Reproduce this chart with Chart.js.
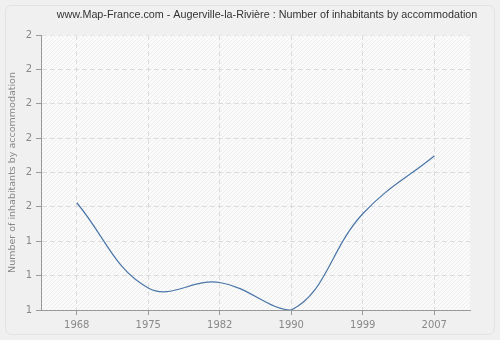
<!DOCTYPE html>
<html>
<head>
<meta charset="utf-8">
<script src="https://cdn.jsdelivr.net/npm/chart.js@4/dist/chart.umd.min.js"></script>
<style>
  html, body { margin: 0; padding: 0; background: #f0f0f0; }
  #wrap { width: 500px; height: 340px; position: relative; }
</style>
</head>
<body>
<div id="wrap"><canvas id="chart" width="500" height="340"></canvas></div>
<script>
const years = ['1968', '1975', '1982', '1990', '1999', '2007'];
const inhabitants = [1.39, 1.08, 1.10, 1.0, 1.35, 1.56];
const yTickLabels = ['1', '1', '1', '2', '2', '2', '2', '2', '2'];
const titleText = 'www.Map-France.com - Augerville-la-Rivière : Number of inhabitants by accommodation';

// hatched background for the plot area
const makePattern = () => {
    const c = document.createElement('canvas');
    c.width = 4; c.height = 4;
    const g = c.getContext('2d');
    g.fillStyle = '#fbfbfb';
    g.fillRect(0, 0, 4, 4);
    g.strokeStyle = '#ededed';
    g.lineWidth = 1;
    g.beginPath();
    g.moveTo(0, 4); g.lineTo(4, 0);
    g.moveTo(-2, 2); g.lineTo(2, -2);
    g.moveTo(2, 6); g.lineTo(6, 2);
    g.stroke();
    return c;
};

const backdrop = {
    id: 'backdrop',
    beforeDraw(chart) {
        const { ctx, chartArea: a } = chart;
        ctx.save();
        ctx.fillStyle = '#f0f0f0';
        ctx.fillRect(0, 0, chart.width, chart.height);
        // rounded panel
        ctx.strokeStyle = '#e2e2e2';
        ctx.lineWidth = 1;
        ctx.beginPath();
        ctx.roundRect(5.5, 5.5, 489, 329, 6);
        ctx.stroke();
        ctx.fillStyle = ctx.createPattern(makePattern(), 'repeat');
        ctx.fillRect(a.left, a.top, a.right - a.left, a.bottom - a.top);
        // title, sized to the reference width
        let size = 11;
        ctx.font = size + 'px "Liberation Sans"';
        size = size * 421 / ctx.measureText(titleText).width;
        ctx.font = size.toFixed(2) + 'px "Liberation Sans"';
        ctx.fillStyle = '#333';
        ctx.textAlign = 'center';
        ctx.textBaseline = 'middle';
        ctx.fillText(titleText, 267, 15);
        ctx.restore();
    }
};

new Chart(document.getElementById('chart').getContext('2d'), {
    type: 'line',
    data: {
        labels: years,
        datasets: [{
            data: inhabitants,
            borderColor: '#4a76a8',
            borderWidth: 1.2,
            pointRadius: 0,
            tension: 0.4,
            fill: false
        }]
    },
    options: {
        responsive: false,
        animation: false,
        layout: { padding: { top: 35, right: 30, left: 0, bottom: 0 } },
        plugins: { legend: { display: false }, title: { display: false }, tooltip: { enabled: false } },
        scales: {
            x: {
                offset: true,
                grid: {
                    offset: false,
                    color: '#dcdcdc',
                    tickColor: '#999',
                    tickLength: 5,
                    tickBorderDash: []
                },
                border: { color: '#999', dash: [5, 3] },
                ticks: { color: '#888', font: { family: 'DejaVu Sans', size: 10 }, padding: 4, maxRotation: 0 },
                afterFit: s => { s.height = 30; }
            },
            y: {
                min: 1,
                max: 2,
                grid: {
                    color: (c) => c.index === 8 ? '#e6e6e6' : '#dcdcdc',
                    tickColor: '#999',
                    tickLength: 5,
                    tickBorderDash: []
                },
                border: { color: '#999', dash: [5, 3] },
                ticks: {
                    stepSize: 0.125,
                    color: '#888',
                    font: { family: 'DejaVu Sans', size: 10 },
                    padding: 4,
                    callback: (v, i) => yTickLabels[i]
                },
                title: {
                    display: true,
                    text: 'Number of inhabitants by accommodation',
                    color: '#888',
                    font: { family: 'DejaVu Sans', size: 9.5 },
                    padding: { top: 7, bottom: 0 }
                },
                afterFit: s => { s.width = 41; }
            }
        }
    },
    plugins: [backdrop]
});
</script>
</body>
</html>
